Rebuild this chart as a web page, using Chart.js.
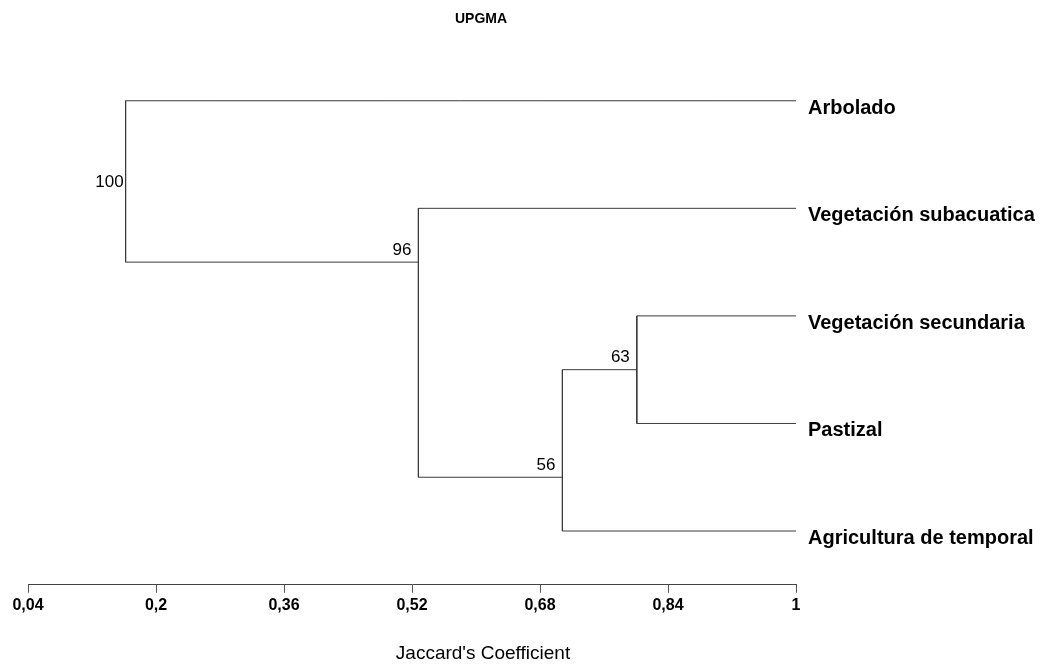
<!DOCTYPE html>
<html>
<head>
<meta charset="utf-8">
<script src="https://cdn.jsdelivr.net/npm/chart.js@4.4.1/dist/chart.umd.min.js"></script>
<style>
  html, body { margin: 0; padding: 0; background: #fff; }
  #wrap { width: 1043px; height: 664px; }
</style>
</head>
<body>
<div id="wrap"><canvas id="dendro" width="1043" height="664"></canvas></div>
<script>
// leaves, top to bottom
const leafNames = ['Arbolado', 'Vegetación subacuatica', 'Vegetación secundaria', 'Pastizal', 'Agricultura de temporal'];
// internal nodes: bootstrap label, Jaccard level, children (leaf index or 'n' + node index)
const nodeLabels = ['100', '96', '56', '63'];
const nodeCoef = [0.162, 0.528, 0.708, 0.801];
const nodeChildren = [[0, 'n1'], [1, 'n2'], ['n3', 4], [2, 3]];
// row where each node's stem meets its parent
const nodeRow = [0.75, 1.5, 3.5, 2.5];
const tickVals = [0.04, 0.2, 0.36, 0.52, 0.68, 0.84, 1];
const leafCoef = 1;

const FONT = "'Liberation Sans', Arial, sans-serif";
const lineColor = '#3a3a3a';

function childPos(c) {
    if (typeof c === 'number') return { x: leafCoef, y: c };
    const k = +c.slice(1);
    return { x: nodeCoef[k], y: nodeRow[k] };
}

// one dataset per segment
const segments = [];
nodeChildren.forEach(function (kids, i) {
    const a = childPos(kids[0]);
    const b = childPos(kids[1]);
    segments.push([{ x: nodeCoef[i], y: a.y }, { x: nodeCoef[i], y: b.y }]);
    segments.push([{ x: nodeCoef[i], y: a.y }, a]);
    segments.push([{ x: nodeCoef[i], y: b.y }, b]);
});

const datasets = segments.map(function (s) {
    return {
        data: s,
        showLine: true,
        borderColor: lineColor,
        borderWidth: 1,
        pointRadius: 0,
        fill: false
    };
});

const textPlugin = {
    id: 'dendroText',
    afterDraw(chart) {
        const ctx = chart.ctx;
        const xs = chart.scales.x;
        const ys = chart.scales.y;
        ctx.save();
        ctx.fillStyle = '#000';

        // title
        ctx.font = 'bold 14px ' + FONT;
        ctx.textAlign = 'center';
        ctx.textBaseline = 'middle';
        ctx.fillText('UPGMA', 481, 19);

        // axis title
        ctx.font = '19px ' + FONT;
        ctx.fillText("Jaccard's Coefficient", 483, 654);

        // leaf names
        ctx.font = 'bold 20px ' + FONT;
        ctx.textAlign = 'left';
        ctx.textBaseline = 'alphabetic';
        leafNames.forEach(function (name, i) {
            ctx.fillText(name, xs.getPixelForValue(leafCoef) + 12, ys.getPixelForValue(i) + 13);
        });

        // node support values
        ctx.font = '17px ' + FONT;
        ctx.textAlign = 'right';
        ctx.textBaseline = 'middle';
        nodeLabels.forEach(function (lab, i) {
            const px = xs.getPixelForValue(nodeCoef[i]);
            if (i === 0) {
                const kids = nodeChildren[0];
                const mid = (childPos(kids[0]).y + childPos(kids[1]).y) / 2;
                ctx.fillText(lab, px - 2, ys.getPixelForValue(mid) + 1);
            } else {
                ctx.fillText(lab, px - 7, ys.getPixelForValue(nodeRow[i]) - 12);
            }
        });
        ctx.restore();
    }
};

new Chart(document.getElementById('dendro'), {
    type: 'scatter',
    data: { datasets: datasets },
    options: {
        responsive: false,
        animation: false,
        layout: { padding: { left: 28, right: 247, top: 47, bottom: 46 } },
        plugins: {
            legend: { display: false },
            tooltip: { enabled: false },
            title: { display: false }
        },
        scales: {
            x: {
                type: 'linear',
                min: 0.04,
                max: 1,
                afterBuildTicks: function (scale) {
                    scale.ticks = tickVals.map(function (v) { return { value: v }; });
                },
                ticks: {
                    autoSkip: false,
                    maxRotation: 0,
                    padding: 3,
                    color: '#000',
                    font: { family: FONT, size: 16, weight: 'bold' },
                    callback: function (v) { return String(v).replace('.', ','); }
                },
                grid: { drawOnChartArea: false, drawTicks: true, tickLength: 8, color: '#555' },
                border: { display: true, color: '#444' }
            },
            y: {
                type: 'linear',
                min: -0.5,
                max: 4.5,
                reverse: true,
                display: false
            }
        }
    },
    plugins: [textPlugin]
});
</script>
</body>
</html>
